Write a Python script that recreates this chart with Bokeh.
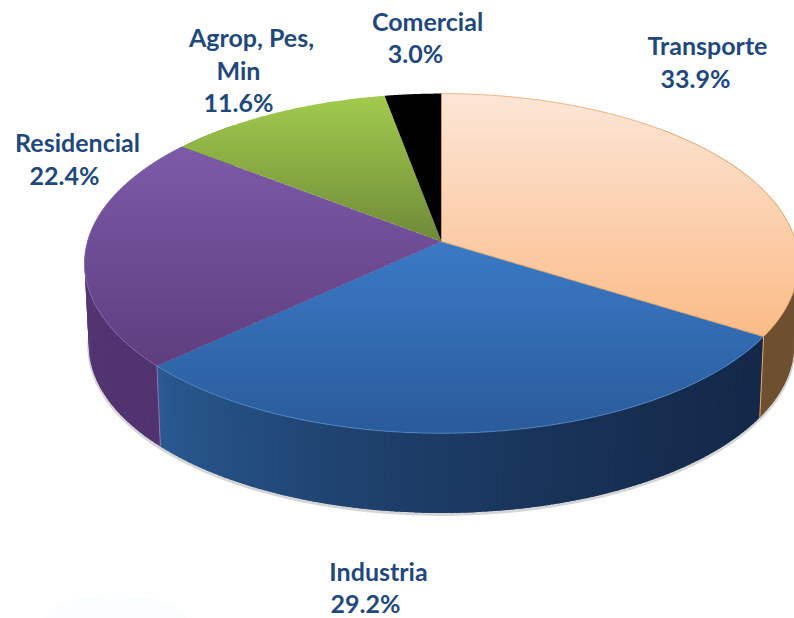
import numpy as np
from bokeh.plotting import figure
from bokeh.models import Range1d
from bokeh.core.properties import value
from bokeh.embed import file_html
from bokeh.resources import INLINE

# data
sectors = ["Transporte", "Industria", "Residencial", "Agrop, Pes, Min", "Comercial"]
shares = [33.9, 29.2, 22.4, 11.6, 3.0]
share_labels = ["33.9%", "29.2%", "22.4%", "11.6%", "3.0%"]
top_start = ["#FCE6D7", "#3B7AC6", "#7D5AA8", "#A2CB4E", "#000000"]
top_end = ["#FBBB86", "#2A5B9B", "#5E3E7E", "#6E8A38", "#000000"]
side_start = ["#6E5030", "#14294A", "#513370", "#6E8A38", "#000000"]
side_end = ["#6E5030", "#295A92", "#5C3B7C", "#6E8A38", "#000000"]
outline = ["#E8A868", "#5A8CCB", "#8E70B4", "#A2CB4E", "#000000"]

# layout (pixels of the page)
CX, CY, RX, RY, K = 441.0, 241.0, 354.0, 167.0, 0.129
S, DEPTH = 0.988, 82.0
W, H = 794, 618

def project(theta, scale=1.0, dy=0.0):
    x, y = np.sin(theta), np.cos(theta)
    d = 1 + K * y
    return CX + scale * RX * x / d, CY + dy - scale * RY * y / d

def hex2rgb(c):
    return np.array([int(c[i:i + 2], 16) for i in (1, 3, 5)], float)

def mix(a, b, t):
    r = hex2rgb(a) * (1 - t) + hex2rgb(b) * t
    return "#%02x%02x%02x" % tuple(int(round(v)) for v in r)

def clip(poly, y0, y1):
    def cut(pts, lim, keep_below):
        out = []
        n = len(pts)
        for i in range(n):
            a, b = pts[i], pts[(i + 1) % n]
            ia = a[1] <= lim if keep_below else a[1] >= lim
            ib = b[1] <= lim if keep_below else b[1] >= lim
            if ia:
                out.append(a)
            if ia != ib:
                t = (lim - a[1]) / (b[1] - a[1])
                out.append((a[0] + t * (b[0] - a[0]), lim))
        return out
    pts = cut(poly, y0, False)
    return cut(pts, y1, True) if pts else pts

p = figure(width=W, height=H, output_backend="svg", toolbar_location=None,
           x_range=Range1d(0, W), y_range=Range1d(H, 0),
           min_border=0, outline_line_color=None, background_fill_color="white")
p.axis.visible = False
p.grid.visible = False

bounds = np.radians(np.concatenate([[0], np.cumsum(shares)]) * 3.6)
bounds[-1] = 2 * np.pi

# faint glow at the page foot
p.ellipse(x=[115], y=[628], width=[150], height=[70], fill_color="#FBFEFE", line_color=None)

# soft shadow under the wall
th = np.radians(np.linspace(55, 305, 200))
sx, sy = project(th, S, DEPTH)
p.line(sx, sy + 1.5, line_color="#888888", line_width=3, line_alpha=0.35)

# walls
xs, ys, cols = [], [], []
for i in range(len(shares)):
    lo, hi = bounds[i], bounds[i + 1]
    n = max(2, int(np.degrees(hi - lo)))
    t = np.linspace(lo, hi, n + 1)
    for j in range(n):
        a0, a1 = t[j], min(t[j + 1] + 0.015, hi)
        if np.cos(a0) > 0.75:
            continue
        ux, uy = project(np.array([a0, a1]))
        lx, ly = project(np.array([a0, a1]), S, DEPTH)
        xs.append([ux[0], ux[1], lx[1], lx[0]])
        ys.append([uy[0], uy[1], ly[1], ly[0]])
        cols.append(mix(side_start[i], side_end[i], ((j + 0.5) / n) ** 1.7))
p.patches(xs, ys, fill_color=cols, line_color=None)

# seams between the walls
for i in (0, 1):
    a = bounds[i + 1]
    ux, uy = project(a)
    lx, ly = project(a, S, DEPTH)
    p.line([ux, lx], [uy, ly], line_color=outline[i] if i == 0 else outline[2], line_width=1)

# top of the pie, banded for its vertical gradient
xs, ys, cols = [], [], []
for i in range(len(shares)):
    t = np.linspace(bounds[i], bounds[i + 1], 120)
    ex, ey = project(t)
    poly = [(CX, CY)] + list(zip(ex, ey))
    lo, hi = min(q[1] for q in poly), max(q[1] for q in poly)
    edges = np.arange(lo, hi + 3, 3)
    for y0, y1 in zip(edges[:-1], edges[1:]):
        piece = clip(poly, y0, y1 + 1.0)
        if len(piece) < 3:
            continue
        xs.append([q[0] for q in piece])
        ys.append([q[1] for q in piece])
        f = np.clip(((y0 + y1) / 2 - lo) / max(hi - lo, 1), 0, 1)
        cols.append(mix(top_start[i], top_end[i], f))
p.patches(xs, ys, fill_color=cols, line_color=None)

# rim highlights
for i in range(3):
    t = np.linspace(bounds[i], bounds[i + 1], 120)
    ex, ey = project(t)
    p.line(ex, ey, line_color=outline[i], line_width=1, line_alpha=0.8)
ax, ay = project(bounds[0])
bx, by = project(bounds[1])
p.line([ax, CX, bx], [ay, CY, by], line_color=outline[0], line_width=1, line_alpha=0.8)

# labels
lab_x = [707, 378, 77, 251, 427]
lab_y = [44, 570, 141, 36, 20]
val_x = [695, 365, 64, 238, 415]
val_y = [77, 602, 174, 101, 52]
names = ["Transporte", "Industria", "Residencial", "Agrop, Pes,", "Comercial"]
tx = lab_x + val_x + [238]
ty = lab_y + val_y + [69]
tt = names + share_labels + ["Min"]
p.text(tx, ty, text=tt, text_font=value("Lato"), text_font_style="bold",
       text_font_size="25px", text_color="#1F497D",
       text_align="center", text_baseline="middle")

open("out.html", "w").write(file_html(p, INLINE))
